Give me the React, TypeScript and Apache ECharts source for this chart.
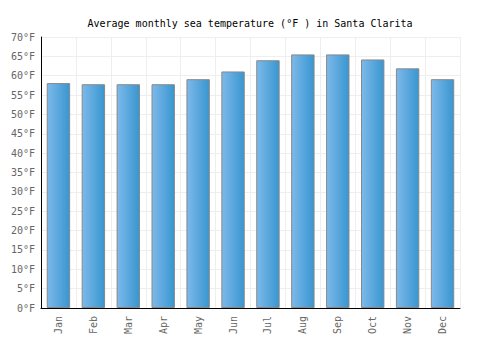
import React, { useEffect, useRef } from "react";
import * as echarts from "echarts";

const months = ["Jan", "Feb", "Mar", "Apr", "May", "Jun", "Jul", "Aug", "Sep", "Oct", "Nov", "Dec"];
const seaTempF = [58.1, 57.8, 57.8, 57.8, 59.1, 61.1, 64.0, 65.5, 65.5, 64.2, 61.9, 59.1];
const yMin = 0;
const yMax = 70;
const yStep = 5;

export default function App() {
  const ref = useRef<HTMLDivElement>(null);
  useEffect(() => {
    if (!ref.current) return;
    const chart = echarts.init(ref.current, undefined, { renderer: "svg" });
    chart.setOption({
      animation: false,
      backgroundColor: "#ffffff",
      title: {
        text: "Average monthly sea temperature (°F ) in Santa Clarita",
        left: "center",
        top: 13,
        textStyle: { fontFamily: "DejaVu Sans Mono", fontSize: 10, fontWeight: "normal", color: "#000" },
      },
      grid: { left: 41, right: 40, top: 37, bottom: 42, containLabel: false },
      xAxis: {
        type: "category",
        data: months,
        axisLine: { show: true, lineStyle: { color: "#000", width: 1 } },
        axisTick: { show: false },
        axisLabel: {
          rotate: 90,
          color: "#666",
          fontFamily: "DejaVu Sans Mono",
          fontSize: 10,
          margin: 8,
        },
        splitLine: { show: true, lineStyle: { color: "#eeeeee", width: 1 } },
      },
      yAxis: {
        type: "value",
        min: yMin,
        max: yMax,
        interval: yStep,
        axisLine: { show: true, lineStyle: { color: "#000", width: 1 } },
        axisTick: { show: false },
        axisLabel: {
          formatter: "{value}°F",
          color: "#666",
          fontFamily: "DejaVu Sans Mono",
          fontSize: 10,
          margin: 6,
        },
        splitLine: { show: true, lineStyle: { color: "#eeeeee", width: 1 } },
      },
      series: [
        {
          type: "bar",
          data: seaTempF,
          barWidth: "67%",
          itemStyle: {
            borderColor: "#888888",
            borderWidth: 1,
            color: new echarts.graphic.LinearGradient(0, 0, 1, 0, [
              { offset: 0, color: "#7db9ea" },
              { offset: 1, color: "#3896d0" },
            ]),
          },
        },
      ],
    });
    return () => chart.dispose();
  }, []);
  return <div ref={ref} style={{ position: "absolute", left: 0, top: 0, width: 500, height: 350 }} />;
}
